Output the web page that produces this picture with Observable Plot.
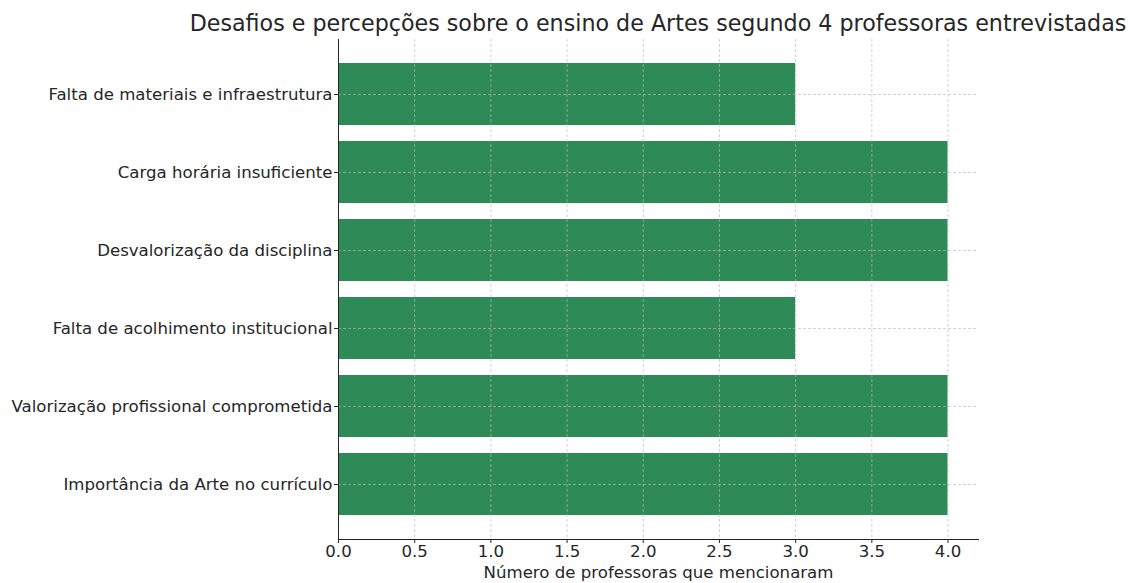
<!DOCTYPE html>
<html>
<head>
<meta charset="utf-8">
<script src="https://cdn.jsdelivr.net/npm/d3@7"></script>
<script src="https://cdn.jsdelivr.net/npm/@observablehq/plot@0.6"></script>
<style>
  html, body { margin: 0; padding: 0; background: #fff; }
  #wrap { position: relative; width: 1130px; height: 583px; }
  #title { position: absolute; left: 338px; width: 640px; top: 9px; line-height: 28px; text-align: center; white-space: nowrap;
           font-family: "DejaVu Sans", sans-serif; font-size: 22.2px; color: #262626; display: flex; justify-content: center; }
  svg { font-family: "DejaVu Sans", sans-serif; }
</style>
</head>
<body>
<div id="wrap">
  <div id="title"><span>Desafios e percepções sobre o ensino de Artes segundo 4 professoras entrevistadas</span></div>
  <div id="chart"></div>
</div>
<script>
const categories = [
  "Falta de materiais e infraestrutura",
  "Carga horária insuficiente",
  "Desvalorização da disciplina",
  "Falta de acolhimento institucional",
  "Valorização profissional comprometida",
  "Importância da Arte no currículo"
];
const values = [3, 4, 4, 3, 4, 4];
const xTicks = [0, 0.5, 1, 1.5, 2, 2.5, 3, 3.5, 4];
const xLabel = "Número de professoras que mencionaram";

const data = categories.map((c, i) => ({category: c, value: values[i]}));

const chart = Plot.plot({
  width: 1130,
  height: 583,
  marginLeft: 338,
  marginRight: 152,
  marginTop: 39,
  marginBottom: 44,
  style: {fontFamily: "DejaVu Sans, sans-serif", fontSize: "16.6px", color: "#262626", background: "#fff"},
  x: {domain: [0, 4.2]},
  y: {domain: categories, paddingInner: 0.2, paddingOuter: 0.29},
  marks: [
    Plot.barX(data, {x: "value", y: "category", fill: "#2e8b57"}),
    Plot.gridX(xTicks, {stroke: "#b8b8b8", strokeOpacity: 0.8, strokeWidth: 0.8, strokeDasharray: "3,2"}),
    Plot.gridY(categories, {stroke: "#b8b8b8", strokeOpacity: 0.8, strokeWidth: 0.8, strokeDasharray: "3,2"}),
    Plot.axisX(xTicks, {tickFormat: d => d.toFixed(1), tickSize: 4, tickPadding: 2, label: xLabel, labelAnchor: "center", labelArrow: "none", labelOffset: 38, stroke: "#262626"}),
    Plot.axisY({tickSize: 4, tickPadding: 2, label: null, stroke: "#262626"}),
    Plot.frame({anchor: "left", stroke: "#262626"}),
    Plot.frame({anchor: "bottom", stroke: "#262626"})
  ]
});
document.getElementById("chart").appendChild(chart);
</script>
</body>
</html>
